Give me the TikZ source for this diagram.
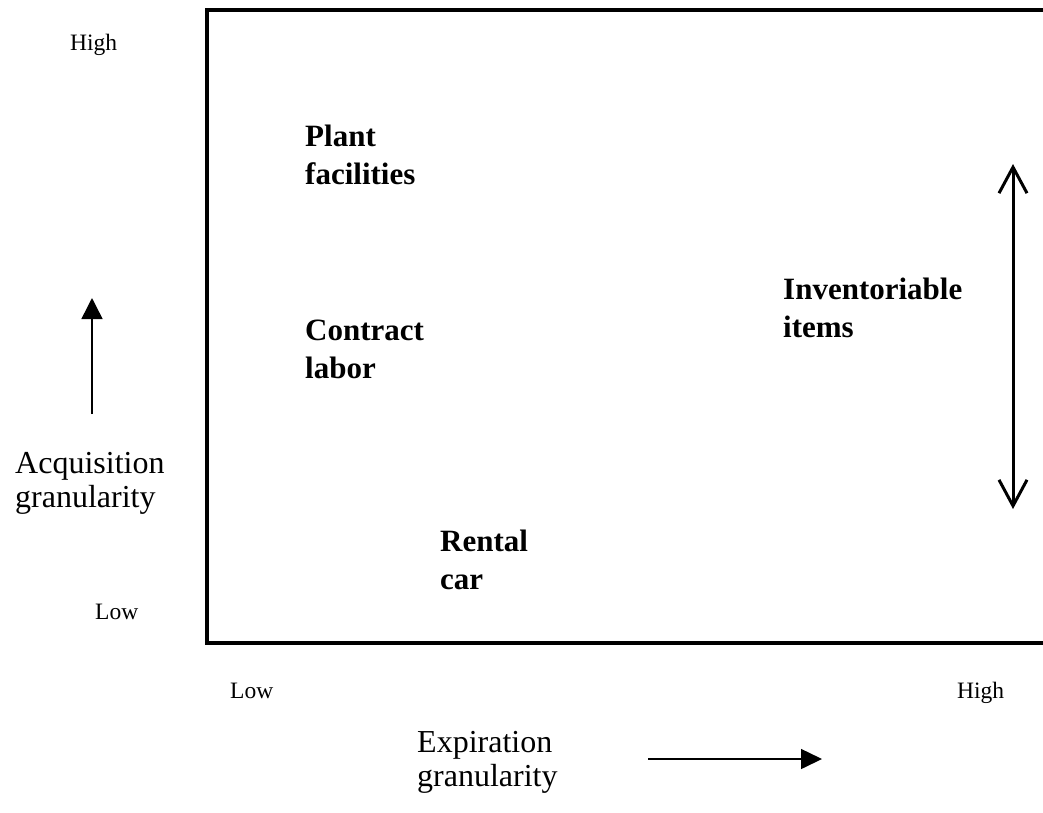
\documentclass[tikz,border=0pt]{standalone}
\usepackage{fontspec}
\setmainfont{Liberation Serif}
\usetikzlibrary{arrows.meta}

\tikzset{
    itemLabel/.style={anchor=base west, inner sep=0pt, align=left,
        font=\fontsize{31}{38}\selectfont\bfseries},
    axisLabel/.style={anchor=base west, inner sep=0pt, align=left,
        font=\fontsize{32}{34}\selectfont},
    endLabel/.style={anchor=base west, inner sep=0pt,
        font=\fontsize{23.5}{28}\selectfont}
}

\begin{document}
\begin{tikzpicture}[x=1pt,y=-1pt]
    \useasboundingbox (0,0) rectangle (1043,812);

    % Draw the frame (open on the right)
    \draw[line width=4pt, line join=miter] (1050,10) -- (207,10) -- (207,643) -- (1050,643);

    % Label the ends of the axes
    \node[endLabel] (acqHigh) at (70,50) {High};
    \node[endLabel] (acqLow) at (95,619) {Low};
    \node[endLabel] (expLow) at (230,698) {Low};
    \node[endLabel] (expHigh) at (957,698) {High};

    % Axis titles (anchored on the last line)
    \node[axisLabel] (acqTitle) at (15,507) {Acquisition\\granularity};
    \node[axisLabel] (expTitle) at (417,786) {Expiration\\granularity};

    % Items in the chart
    \node[itemLabel] (plant) at (305,184) {Plant\\facilities};
    \node[itemLabel] (contract) at (305,378) {Contract\\labor};
    \node[itemLabel] (inventory) at (783,337) {Inventoriable\\items};
    \node[itemLabel] (rental) at (440,589) {Rental\\car};

    % Arrows
    \coordinate (acqFrom) at (92,414);
    \coordinate (acqTo) at (92,298);
    \draw[line width=1.5pt, -{Triangle[length=21pt,width=21pt]}] (acqFrom) -- (acqTo);

    \coordinate (expFrom) at (648,759);
    \coordinate (expTo) at (822,759);
    \draw[line width=1.5pt, -{Triangle[length=21pt,width=20pt]}] (expFrom) -- (expTo);

    \coordinate (invTop) at (1013,164);
    \coordinate (invBottom) at (1013,509);
    \draw[line width=3pt, {Straight Barb[length=26pt,width=28pt]}-{Straight Barb[length=26pt,width=28pt]}] (invTop) -- (invBottom);

\end{tikzpicture}
\end{document}
